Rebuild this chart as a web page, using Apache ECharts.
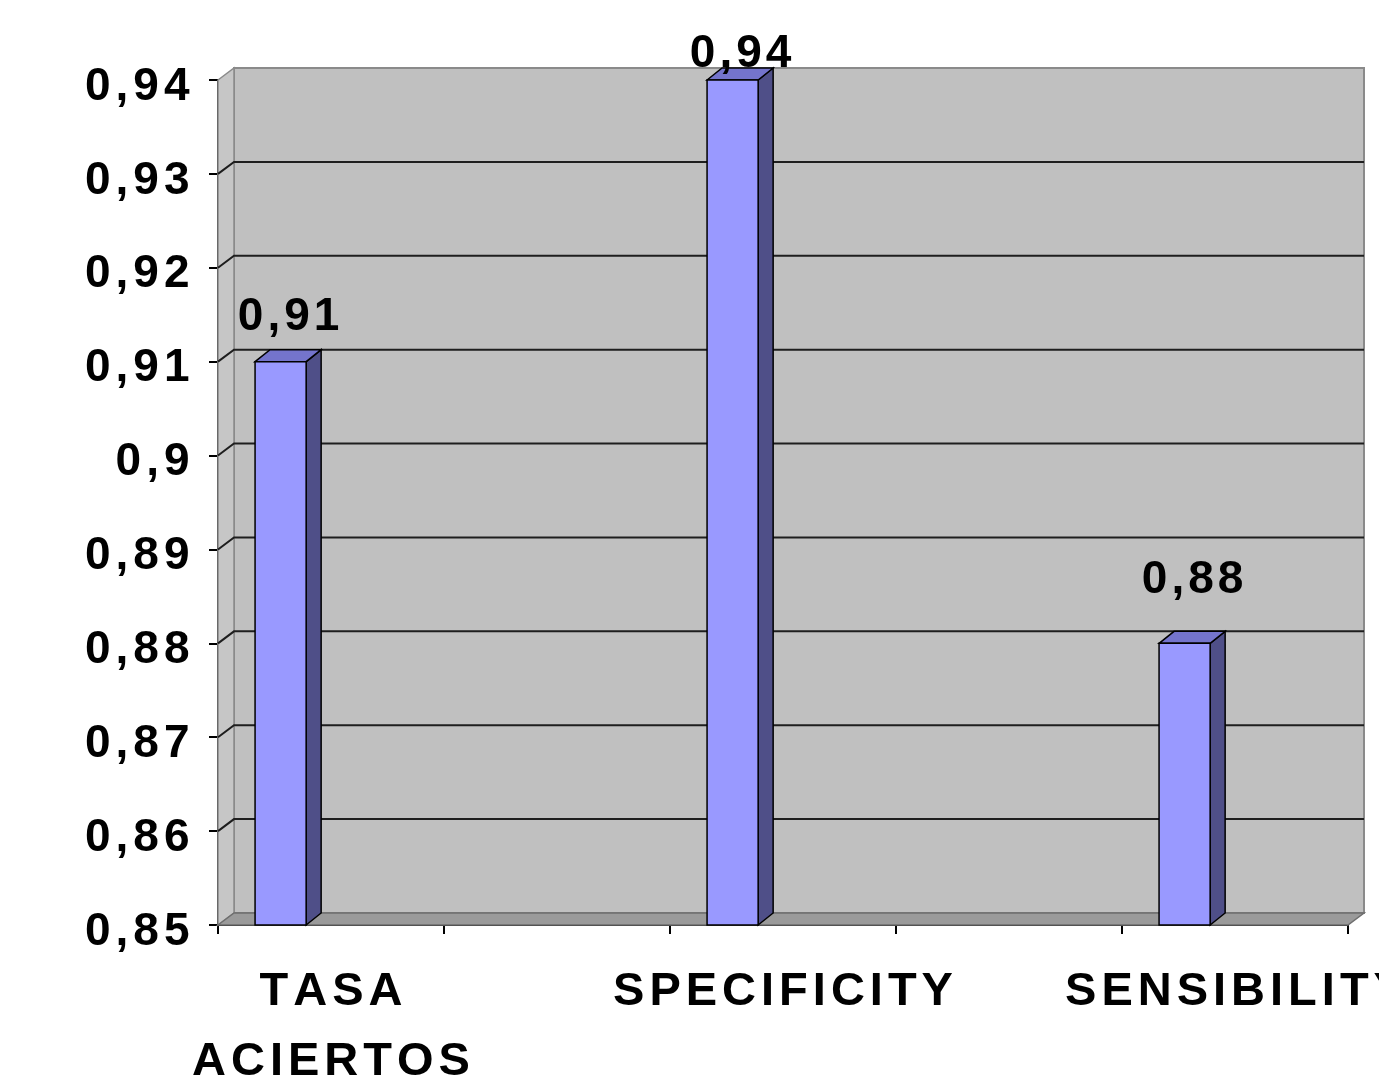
<!DOCTYPE html>
<html>
<head>
<meta charset="utf-8">
<title>Tasa de aciertos, specificity y sensibility</title>
<script src="https://cdn.jsdelivr.net/npm/echarts@6/dist/echarts.min.js"></script>
<style>
  html, body { margin: 0; padding: 0; background: #ffffff; }
  #chart { width: 1379px; height: 1077px; }
</style>
</head>
<body>
<div id="chart"></div>
<script>
// Series data
var categories = ['TASA ACIERTOS', 'SPECIFICITY', 'SENSIBILITY'];
var values = [0.91, 0.94, 0.88];
// Value axis ticks
var yTicks = [0.85, 0.86, 0.87, 0.88, 0.89, 0.90, 0.91, 0.92, 0.93, 0.94];

// Each category takes two slots of the category axis; the second one is empty
var slots = [];
categories.forEach(function (c, i) {
  slots.push(c);
  if (i < categories.length - 1) slots.push('');
});

// 3D depth of the walls and bars (pixels)
var WALL_DX = 16, WALL_DY = 12;
var BAR_DX = 15, BAR_DY = 12;
var FONT = '"Liberation Sans", Arial, sans-serif';

function fmtNum(v) {
  return v.toFixed(2).replace(/0$/, '').replace('.', ',');
}
// Wrap each character in a rich token so the text gets the wide tracking
function spaced(str, style) {
  return str.split('\n').map(function (line) {
    return line.split('').map(function (ch) { return '{' + style + '|' + ch + '}'; }).join('');
  }).join('\n');
}

var chart = echarts.init(document.getElementById('chart'), null, { renderer: 'canvas' });

function renderWalls(params, api) {
  var cs = params.coordSys;
  var x0 = cs.x, y0 = cs.y, w = cs.width, h = cs.height;
  var yb = y0 + h;
  var children = [];
  // back wall
  children.push({
    type: 'rect',
    shape: { x: x0 + WALL_DX, y: y0 - WALL_DY, width: w, height: h },
    style: { fill: '#c0c0c0', stroke: '#8a8a8a', lineWidth: 2 }
  });
  // left side wall
  children.push({
    type: 'polygon',
    shape: { points: [[x0, y0], [x0 + WALL_DX, y0 - WALL_DY], [x0 + WALL_DX, yb - WALL_DY], [x0, yb]] },
    style: { fill: '#c6c6c6', stroke: '#8a8a8a', lineWidth: 1.5 }
  });
  // floor
  children.push({
    type: 'polygon',
    shape: { points: [[x0, yb], [x0 + WALL_DX, yb - WALL_DY], [x0 + w + WALL_DX, yb - WALL_DY], [x0 + w, yb]] },
    style: { fill: '#9a9a9a', stroke: '#6e6e6e', lineWidth: 1.5 }
  });
  // gridlines running across the side wall and the back wall
  yTicks.forEach(function (t, i) {
    if (i === 0 || i === yTicks.length - 1) return;
    var y = api.coord([0, t])[1];
    children.push({
      type: 'polyline',
      shape: { points: [[x0, y], [x0 + WALL_DX, y - WALL_DY], [x0 + w + WALL_DX, y - WALL_DY]] },
      style: { fill: null, stroke: '#1e1e1e', lineWidth: 2 }
    });
  });
  return { type: 'group', children: children };
}

function renderBar(params, api) {
  var slot = api.value(0), v = api.value(1);
  var band = api.size([1, 0])[0];
  var top = api.coord([slot, v]);
  var base = api.coord([slot, yTicks[0]]);
  var bw = band * 0.226;
  var L = top[0] - band * 0.336;
  var R = L + bw;
  var yt = top[1], yb = base[1];
  var label = fmtNum(v);
  // value label sits a little above the bar top
  var labelBottom = yb - 65 - 0.933 * (yb - yt);
  return {
    type: 'group',
    children: [
      {
        type: 'polygon',
        shape: { points: [[R, yt], [R + BAR_DX, yt - BAR_DY], [R + BAR_DX, yb - BAR_DY], [R, yb]] },
        style: { fill: '#4f4f88', stroke: '#000', lineWidth: 1.5 }
      },
      {
        type: 'polygon',
        shape: { points: [[L, yt], [L + BAR_DX, yt - BAR_DY], [R + BAR_DX, yt - BAR_DY], [R, yt]] },
        style: { fill: '#7474cc', stroke: '#000', lineWidth: 1.5 }
      },
      {
        type: 'rect',
        shape: { x: L, y: yt, width: bw, height: yb - yt },
        style: { fill: '#9999ff', stroke: '#000', lineWidth: 1.5 }
      },
      {
        type: 'text',
        style: {
          text: spaced(label, 'v'),
          x: (L + R) / 2 + 8,
          y: labelBottom + 6,
          align: 'center',
          verticalAlign: 'bottom',
          rich: {
            v: { fontFamily: FONT, fontWeight: 'bold', fontSize: 46, fill: '#000', padding: [0, 2, 0, 2] }
          }
        }
      }
    ]
  };
}

var option = {
  backgroundColor: '#ffffff',
  animation: false,
  grid: { left: 218, right: 31, top: 80, bottom: 152, outerBoundsMode: 'none', containLabel: false },
  xAxis: {
    type: 'category',
    data: slots,
    boundaryGap: true,
    axisLine: { show: true, lineStyle: { color: '#000', width: 2 } },
    axisTick: { show: true, length: 9, alignWithLabel: false, lineStyle: { color: '#000', width: 2 } },
    axisLabel: {
      interval: 0,
      margin: 32,
      hideOverlap: false,
      formatter: function (v) { return v ? spaced(v.replace(' ', '\n'), 'c') : ''; },
      rich: {
        c: { fontFamily: FONT, fontWeight: 'bold', fontSize: 47, color: '#000', lineHeight: 70, padding: [0, 2.5, 0, 2.5] }
      }
    },
    splitLine: { show: false }
  },
  yAxis: {
    type: 'value',
    min: 0.85,
    max: 0.94,
    interval: 0.01,
    axisLine: { show: true, lineStyle: { color: '#000', width: 2 } },
    axisTick: { show: true, length: 9, lineStyle: { color: '#000', width: 2 } },
    splitLine: { show: false },
    axisLabel: {
      margin: 26,
      padding: [14, 0, 0, 0],
      formatter: function (v) { return spaced(fmtNum(v), 'y'); },
      rich: {
        y: { fontFamily: FONT, fontWeight: 'bold', fontSize: 46, color: '#000', padding: [0, 2.5, 0, 2.5] }
      }
    }
  },
  series: [
    {
      type: 'custom',
      name: 'walls',
      coordinateSystem: 'cartesian2d',
      renderItem: renderWalls,
      data: [[0, yTicks[0]]],
      clip: false,
      silent: true,
      z: 1
    },
    {
      type: 'custom',
      name: 'valores',
      coordinateSystem: 'cartesian2d',
      renderItem: renderBar,
      data: values.map(function (v, i) { return [i * 2, v]; }),
      clip: false,
      z: 3
    }
  ]
};

chart.setOption(option);
</script>
</body>
</html>
